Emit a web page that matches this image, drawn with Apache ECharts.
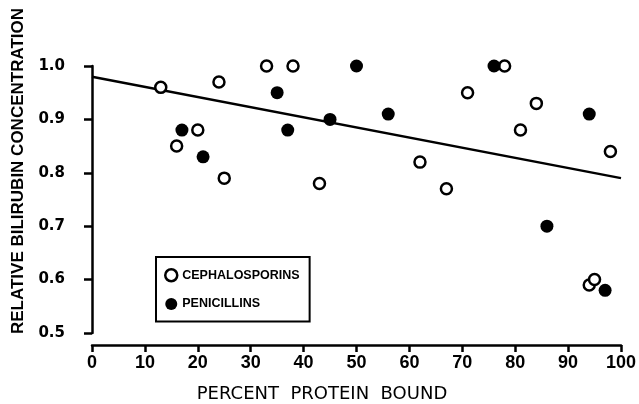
<!DOCTYPE html>
<html>
<head>
<meta charset="utf-8">
<script src="https://cdn.jsdelivr.net/npm/echarts@6/dist/echarts.min.js"></script>
<style>
  html, body { margin: 0; padding: 0; background: #fff; }
  #main { width: 639px; height: 404px; }
</style>
</head>
<body>
<div id="main"></div>
<script>
// 数据：头孢菌素（空心）
var cephalosporins = [
  [13, 0.96], [16, 0.85], [20, 0.88], [24, 0.97], [25, 0.79],
  [33, 1.0], [38, 1.0], [43, 0.78], [62, 0.82], [67, 0.77],
  [71, 0.95], [78, 1.0], [81, 0.88], [84, 0.93], [94, 0.59],
  [95, 0.60], [98, 0.84]
];
// 青霉素（实心）
var penicillins = [
  [17, 0.88], [21, 0.83], [35, 0.95], [37, 0.88], [45, 0.90],
  [50, 1.0], [56, 0.91], [76, 1.0], [86, 0.70], [94, 0.91],
  [97, 0.58]
];
// 回归线两端
var fitLine = [[0, 0.98], [100, 0.79]];

var xTicks = [0, 10, 20, 30, 40, 50, 60, 70, 80, 90, 100];
var yTicks = [0.5, 0.6, 0.7, 0.8, 0.9, 1.0];

var myChart = echarts.init(document.getElementById('main'));

var axisLine = { lineStyle: { color: '#000', width: 2.5 } };

var option = {
  backgroundColor: '#fff',
  animation: false,
  grid: { left: 92, right: 16, top: 66, bottom: 71 },
  legend: {
    orient: 'vertical',
    left: 156,
    top: 257,
    padding: [11, 10, 11, 8],
    itemGap: 15,
    itemWidth: 12,
    itemHeight: 12,
    borderColor: '#000',
    borderWidth: 2,
    borderRadius: 0,
    textStyle: { fontFamily: 'Liberation Sans', fontWeight: 'bold', fontSize: 12.5, color: '#000', padding: [0, 4, 0, 0] },
    data: [
      { name: 'CEPHALOSPORINS', icon: 'circle', itemStyle: { color: '#fff', borderColor: '#000', borderWidth: 2.5 } },
      { name: 'PENICILLINS', icon: 'circle', itemStyle: { color: '#000' } }
    ]
  },
  xAxis: {
    type: 'value',
    min: xTicks[0],
    max: xTicks[xTicks.length - 1],
    interval: 10,
    offset: 12,
    axisLine: axisLine,
    axisTick: { length: 7, lineStyle: { color: '#000', width: 2.5 } },
    axisLabel: { color: '#000', fontFamily: 'Liberation Sans', fontWeight: 'bold', fontSize: 18, margin: 9 },
    splitLine: { show: false }
  },
  yAxis: {
    type: 'value',
    min: yTicks[0],
    max: yTicks[yTicks.length - 1],
    interval: 0.1,
    offset: 15,
    axisLine: axisLine,
    axisTick: { length: 8, lineStyle: { color: '#000', width: 2.5 } },
    axisLabel: {
      color: '#000', fontFamily: 'DejaVu Sans', fontWeight: 'bold', fontSize: 15, margin: 12,
      formatter: function (v) { return v.toFixed(1); }
    },
    splitLine: { show: false }
  },
  graphic: [
    {
      type: 'text',
      style: { text: 'PERCENT  PROTEIN  BOUND', x: 322, y: 394, align: 'center', verticalAlign: 'middle',
        font: 'normal 18px "DejaVu Sans"', fill: '#000' }
    },
    {
      type: 'text', x: 18, y: 171, rotation: Math.PI / 2,
      style: { text: 'RELATIVE BILIRUBIN CONCENTRATION', x: 0, y: 0, align: 'center', verticalAlign: 'middle',
        font: 'bold 17px "Liberation Sans"', fill: '#000' }
    }
  ],
  series: [
    {
      type: 'line',
      data: fitLine,
      symbol: 'none',
      silent: true,
      lineStyle: { color: '#000', width: 2.5 },
      z: 1
    },
    {
      name: 'CEPHALOSPORINS',
      type: 'scatter',
      data: cephalosporins,
      symbol: 'circle',
      symbolSize: 11,
      itemStyle: { color: '#fff', borderColor: '#000', borderWidth: 2.5, opacity: 1 },
      z: 3
    },
    {
      name: 'PENICILLINS',
      type: 'scatter',
      data: penicillins,
      symbol: 'circle',
      symbolSize: 13,
      itemStyle: { color: '#000', opacity: 1 },
      z: 3
    }
  ]
};
myChart.setOption(option);
</script>
</body>
</html>
